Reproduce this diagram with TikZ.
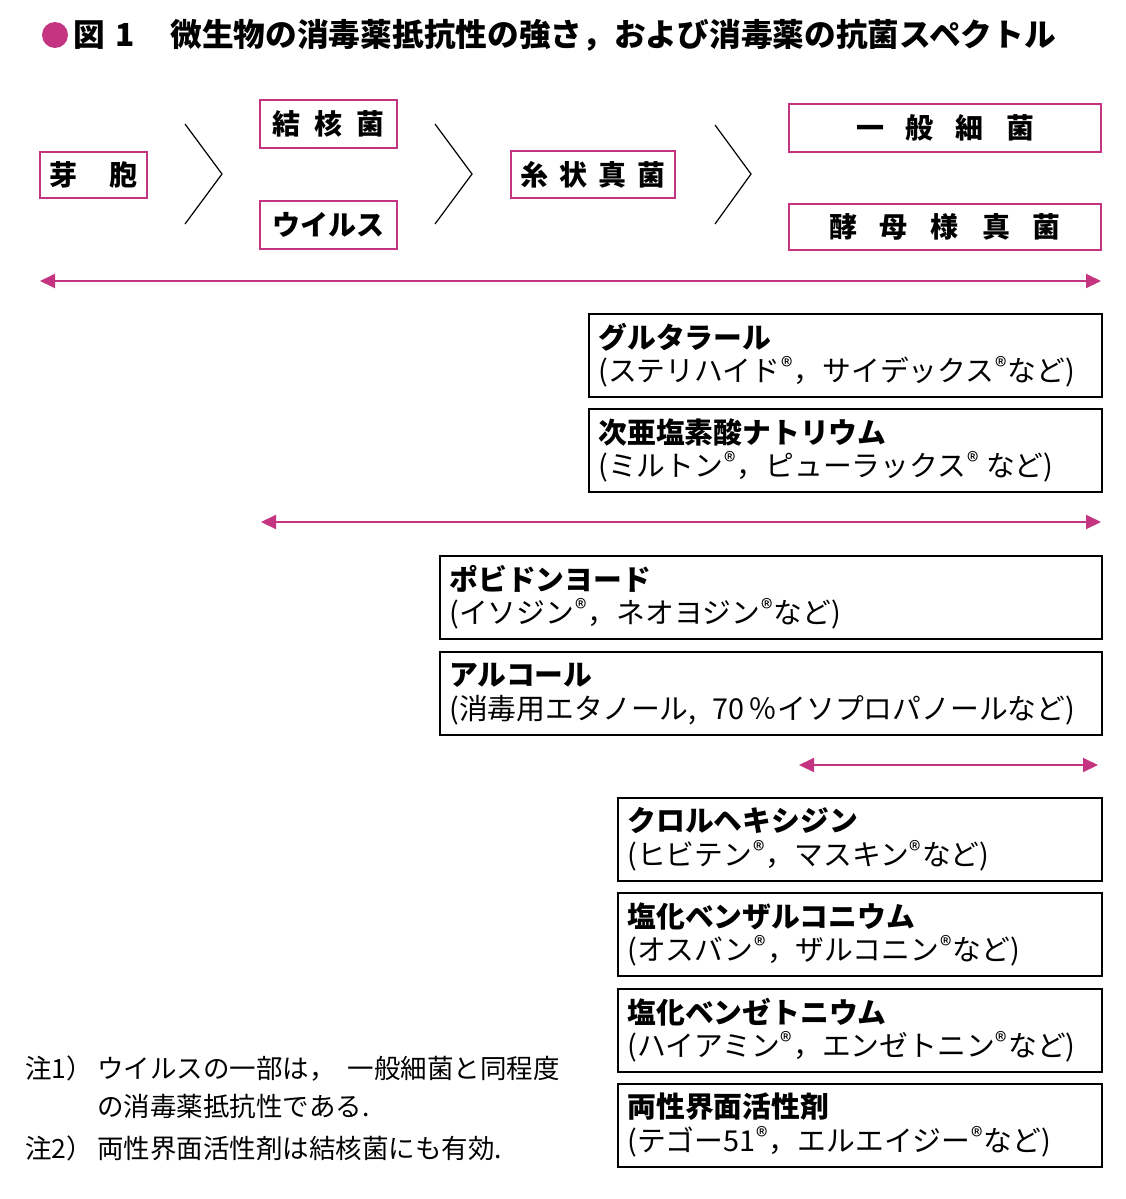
\documentclass[tikz,border=0pt]{standalone}
\usepackage{fontspec}
\setmainfont{Noto Sans CJK JP}
\usetikzlibrary{arrows.meta}
\definecolor{mag}{RGB}{196,52,128}
\newcommand\regm{\hspace{0.5pt}\raisebox{0.2em}{\fontsize{12}{12}\selectfont ®}\hspace{0.5pt}}
\newcommand{\drugitem}[5]{%
  \node[drugbox, minimum width={(1101-#2)*0.5pt}, anchor=north west] (#1) at (#2,#3) {};
  \node[lineA] (#1-a) at ([xshift=5pt,yshift=-12pt]#1.north west) {#4};
  \node[lineB] (#1-b) at ([xshift=5pt,yshift=-29.5pt]#1.north west) {#5};}
\tikzset{
  magbox/.style={draw=mag, line width=1.4pt, inner sep=0pt, font=\bfseries\fontsize{14}{16}\selectfont},
  drugbox/.style={draw=black, line width=0.8pt, inner sep=0pt, minimum height=41.5pt},
  lineA/.style={anchor=west, inner sep=0pt, font=\bfseries\fontsize{14.4}{16}\selectfont},
  lineB/.style={anchor=west, inner sep=0pt, font=\fontsize{14.4}{16}\selectfont},
  spec/.style={draw=mag, line width=1pt, {Triangle[length=7.5pt,width=7pt]}-{Triangle[length=7.5pt,width=7pt]}},
  chev/.style={draw=black, line width=0.6pt},
  note/.style={anchor=west, inner sep=0pt, font=\fontsize{13.25}{15}\selectfont},
}
\begin{document}
\begin{tikzpicture}[x=0.5pt,y=-0.5pt]
\useasboundingbox (0,0) rectangle (1125,1199);
% title
\node[circle, fill=mag, minimum size=13pt, inner sep=0pt] (dot) at (55,35) {};
\node[anchor=west, inner sep=0pt, font=\bfseries\fontsize{15.85}{18}\selectfont] (fig) at (73,35) {図\hspace{5pt}1};
\node[anchor=west, inner sep=0pt, font=\bfseries\fontsize{15.85}{18}\selectfont] (title) at (170,35) {微生物の消毒薬抵抗性の強さ，および消毒薬の抗菌スペクトル};
% top boxes
\node[magbox, minimum width=53.5pt, minimum height=23pt] (gaho) at (93.5,175) {芽\hspace{16pt}胞};
\node[magbox, minimum width=68.5pt, minimum height=24pt] (kekkaku) at (328.5,124) {結\hspace{7pt}核\hspace{7pt}菌};
\node[magbox, minimum width=68.5pt, minimum height=24pt] (virus) at (328.5,225) {ウイルス};
\node[magbox, minimum width=82pt, minimum height=23.5pt] (shijo) at (593,174.5) {糸\hspace{5.5pt}状\hspace{5.5pt}真\hspace{5.5pt}菌};
\node[magbox, minimum width=156pt, minimum height=24pt] (ippan) at (945,128) {一\hspace{11pt}般\hspace{11pt}細\hspace{11pt}菌};
\node[magbox, minimum width=156pt, minimum height=23pt] (kobo) at (945,227) {酵\hspace{11.5pt}母\hspace{11.5pt}様\hspace{11.5pt}真\hspace{11.5pt}菌};
% chevrons
\coordinate (c1a) at (185,124); \coordinate (c1b) at (222,174); \coordinate (c1c) at (185,224);
\coordinate (c2a) at (435,124); \coordinate (c2b) at (472,174); \coordinate (c2c) at (435,224);
\coordinate (c3a) at (715,125); \coordinate (c3b) at (751,174); \coordinate (c3c) at (715,224);
\draw[chev] (c1a) -- (c1b) -- (c1c);
\draw[chev] (c2a) -- (c2b) -- (c2c);
\draw[chev] (c3a) -- (c3b) -- (c3c);
% spectrum arrows
\coordinate (s1l) at (40,281); \coordinate (s1r) at (1101,281);
\coordinate (s2l) at (261,522); \coordinate (s2r) at (1101,522);
\coordinate (s3l) at (799,765); \coordinate (s3r) at (1098,765);
\draw[spec] (s1l) -- (s1r);
\draw[spec] (s2l) -- (s2r);
\draw[spec] (s3l) -- (s3r);
% drug boxes
\drugitem{glut}{588}{313}{グルタラール}{(ステリハイド\regm，サイデックス\regm など)}
\drugitem{hypo}{588}{408}{次亜塩素酸ナトリウム}{(ミルトン\regm，ピューラックス\regm\ など)}
\drugitem{povi}{439}{555}{ポビドンヨード}{(イソジン\regm，ネオヨジン\regm など)}
\drugitem{alco}{439}{651}{アルコール}{(消毒用エタノール,\hspace{8pt}70\hspace{2pt}％イソプロパノールなど)}
\drugitem{chlo}{617}{797}{クロルヘキシジン}{(ヒビテン\regm，マスキン\regm など)}
\drugitem{benz}{617}{892}{塩化ベンザルコニウム}{(オスバン\regm，ザルコニン\regm など)}
\drugitem{bzt}{617}{988}{塩化ベンゼトニウム}{(ハイアミン\regm，エンゼトニン\regm など)}
\drugitem{amph}{617}{1083}{両性界面活性剤}{(テゴー51\regm，エルエイジー\regm など)}
% notes
\node[note] (n1) at (25,1069) {注1）\hspace{2pt}ウイルスの一部は，\hspace{6pt}一般細菌と同程度};
\node[note] (n1b) at (97,1106) {の消毒薬抵抗性である.};
\node[note] (n2) at (25,1148) {注2）\hspace{2pt}両性界面活性剤は結核菌にも有効.};
\end{tikzpicture}
\end{document}
